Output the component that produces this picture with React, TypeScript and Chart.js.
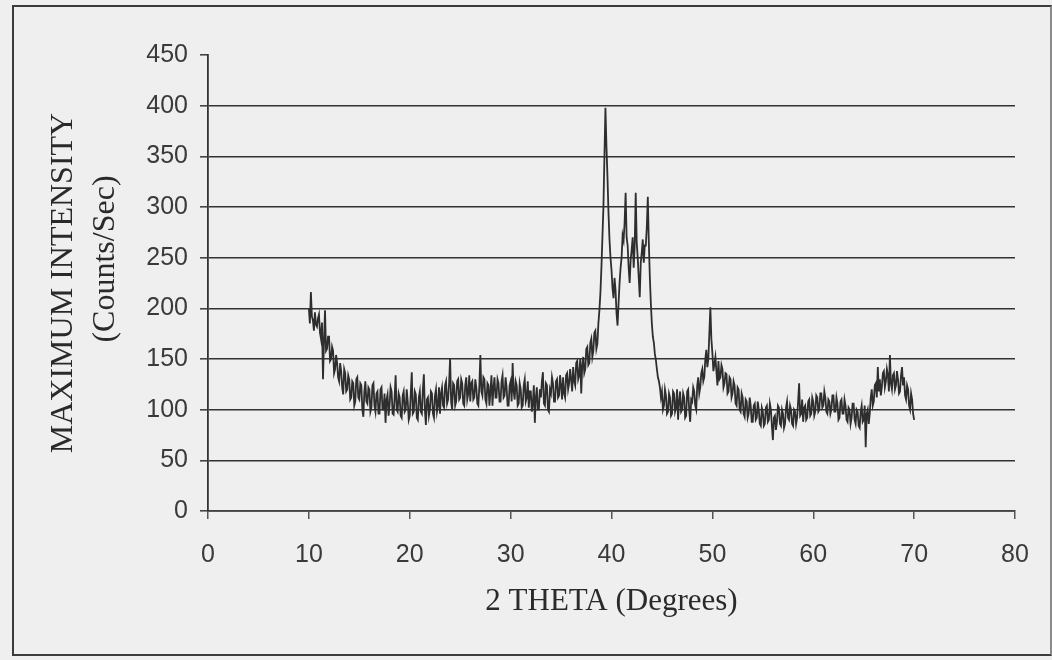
import React, { useEffect, useRef } from "react";
import { Chart, registerables } from "chart.js";

Chart.register(...registerables);

// Scan grid of the diffractometer: 2θ from 10° to 70° in 0.1° steps
const SCAN_START = 10;
const SCAN_STEP = 0.1;

// Intensity (counts/sec), ten readings per degree (x.0 ... x.9)
const INTENSITY: number[] = [
  // 10
  200, 185, 216, 192, 188, 178, 196, 184, 182, 190,
  194, 176, 170, 186, 130, 168, 198, 158, 160, 172,
  172, 148, 150, 162, 158, 136, 140, 154, 146, 132,
  128, 146, 138, 122, 115, 140, 136, 118, 120, 134,
  130, 110, 112, 128, 126, 104, 108, 130, 132, 112,
  // 15
  110, 126, 124, 100, 93, 118, 128, 108, 106, 122,
  120, 98, 102, 124, 126, 104, 98, 116, 118, 96,
  96, 120, 122, 100, 100, 116, 87, 110, 115, 94,
  104, 122, 118, 96, 95, 112, 134, 100, 98, 116,
  112, 94, 92, 114, 118, 98, 100, 120, 108, 90,
  // 20
  94, 116, 137, 96, 98, 118, 115, 92, 90, 112,
  118, 98, 96, 120, 135, 100, 85, 110, 112, 94,
  100, 118, 116, 96, 92, 114, 120, 98, 104, 122,
  96, 116, 122, 104, 102, 124, 128, 106, 110, 126,
  151, 108, 100, 126, 124, 104, 108, 128, 130, 110,
  // 25
  112, 130, 126, 106, 104, 124, 132, 110, 116, 134,
  108, 126, 128, 110, 112, 130, 122, 106, 104, 124,
  154, 118, 114, 132, 130, 110, 106, 126, 124, 104,
  118, 134, 104, 122, 132, 112, 112, 130, 126, 108,
  108, 128, 134, 112, 114, 132, 122, 104, 104, 124,
  // 30
  128, 108, 146, 118, 110, 128, 124, 104, 106, 126,
  120, 102, 104, 124, 130, 108, 112, 128, 102, 118,
  118, 98, 106, 124, 87, 112, 122, 100, 100, 120,
  112, 128, 137, 106, 104, 126, 124, 100, 98, 120,
  116, 132, 126, 108, 108, 128, 130, 112, 114, 134,
  // 35
  124, 110, 132, 116, 112, 134, 136, 120, 126, 140,
  130, 118, 142, 128, 124, 146, 148, 130, 134, 150,
  116, 144, 152, 136, 140, 160, 162, 144, 146, 166,
  170, 152, 158, 176, 178, 160, 165, 185, 198, 215,
  240, 270, 300, 350, 398, 360, 330, 295, 268, 250,
  // 40
  238, 220, 210, 230, 218, 195, 183, 205, 225, 240,
  250, 272, 267, 285, 314, 270, 262, 240, 225, 248,
  258, 270, 240, 262, 314, 265, 250, 230, 211, 245,
  255, 268, 245, 262, 262, 280, 310, 265, 231, 205,
  185, 172, 166, 155, 149, 140, 132, 128, 122, 112,
  // 45
  118, 100, 104, 120, 114, 96, 98, 116, 112, 94,
  96, 118, 116, 98, 102, 120, 90, 108, 118, 98,
  100, 116, 112, 92, 94, 118, 120, 100, 88, 110,
  108, 122, 118, 104, 100, 124, 132, 116, 122, 136,
  140, 128, 132, 150, 159, 142, 150, 175, 201, 170,
  // 50
  156, 138, 145, 152, 138, 124, 148, 130, 132, 144,
  140, 122, 126, 136, 135, 116, 118, 132, 130, 112,
  116, 128, 124, 106, 104, 122, 120, 100, 98, 116,
  112, 96, 93, 110, 108, 92, 96, 112, 104, 88,
  88, 104, 106, 90, 92, 108, 100, 86, 84, 102,
  // 55
  98, 84, 86, 102, 104, 88, 90, 106, 100, 84,
  70, 92, 94, 80, 88, 104, 102, 86, 84, 100,
  96, 82, 86, 102, 108, 92, 90, 104, 100, 86,
  84, 100, 98, 86, 92, 108, 126, 94, 96, 110,
  88, 102, 104, 90, 92, 108, 110, 94, 96, 112,
  // 60
  108, 94, 98, 114, 112, 98, 100, 116, 116, 102,
  104, 118, 112, 98, 96, 110, 108, 96, 100, 114,
  114, 98, 98, 112, 106, 90, 92, 108, 110, 96,
  96, 110, 104, 90, 88, 102, 100, 86, 92, 106,
  106, 90, 86, 100, 98, 84, 82, 98, 104, 88,
  // 65
  90, 104, 63, 96, 100, 86, 96, 112, 120, 104,
  108, 124, 126, 112, 142, 118, 130, 114, 122, 136,
  138, 122, 128, 140, 134, 118, 154, 126, 120, 134,
  136, 120, 124, 138, 130, 116, 118, 134, 142, 124,
  132, 114, 110, 124, 120, 104, 100, 116, 110, 96,
  // 70
  90,
];

const X_MIN = 0;
const X_MAX = 80;
const X_STEP = 10;
const Y_MIN = 0;
const Y_MAX = 450;
const Y_STEP = 50;

const X_TITLE = "2 THETA (Degrees)";
const Y_TITLE = ["MAXIMUM INTENSITY", "\u00A0\u00A0\u00A0\u00A0\u00A0\u00A0(Counts/Sec)"];

const SANS = "'Liberation Sans', Arial, sans-serif";
const SERIF = "'Liberation Serif', 'Times New Roman', serif";

export default function App() {
  const canvasRef = useRef<HTMLCanvasElement | null>(null);

  useEffect(() => {
    const canvas = canvasRef.current;
    if (!canvas) return;
    const points = INTENSITY.map((y, i) => ({
      x: Math.round((SCAN_START + i * SCAN_STEP) * 10) / 10,
      y,
    }));
    const chart = new Chart(canvas, {
      type: "line",
      data: {
        datasets: [
          {
            data: points,
            borderColor: "#2e2e2e",
            borderWidth: 1.8,
            pointRadius: 0,
            tension: 0,
            fill: false,
          },
        ],
      },
      options: {
        animation: false,
        responsive: false,
        events: [],
        layout: { padding: { left: 0, right: 37, top: 55, bottom: 0 } },
        plugins: {
          legend: { display: false },
          tooltip: { enabled: false },
          title: { display: false },
        },
        scales: {
          x: {
            type: "linear",
            min: X_MIN,
            max: X_MAX,
            afterFit: (s: any) => {
              s.height = 149;
            },
            ticks: {
              stepSize: X_STEP,
              color: "#3a3a3a",
              font: { family: SANS, size: 25 },
              padding: 21,
              maxRotation: 0,
            },
            grid: {
              display: true,
              drawOnChartArea: false,
              drawTicks: true,
              tickLength: 8,
              color: "#555",
              lineWidth: 1.5,
            },
            border: { display: true, color: "#444", width: 1.8 },
            title: {
              display: true,
              text: X_TITLE,
              color: "#2a2a2a",
              font: { family: SERIF, size: 31 },
              padding: { top: 0, bottom: 40 },
            },
          },
          y: {
            type: "linear",
            min: Y_MIN,
            max: Y_MAX,
            afterFit: (s: any) => {
              s.width = 208;
            },
            ticks: {
              stepSize: Y_STEP,
              color: "#3a3a3a",
              font: { family: SANS, size: 25 },
              padding: 12,
            },
            grid: {
              display: true,
              drawTicks: true,
              tickLength: 8,
              color: (ctx: any) =>
                ctx.tick && ctx.tick.value === Y_MAX ? "rgba(0,0,0,0)" : "#333",
              tickColor: "#444",
              lineWidth: 1.6,
            },
            border: { display: true, color: "#333", width: 1.8 },
            title: {
              display: true,
              text: Y_TITLE,
              color: "#2a2a2a",
              font: { family: SERIF, size: 32, lineHeight: 1.3 },
              padding: { top: 43, bottom: 0 },
            },
          },
        },
      },
    });
    return () => chart.destroy();
  }, []);

  return (
    <div
      style={{
        position: "fixed",
        left: 0,
        top: 0,
        width: 1052,
        height: 660,
        background: "#efefef",
        overflow: "hidden",
      }}
    >
      <canvas
        ref={canvasRef}
        width={1052}
        height={660}
        style={{ position: "absolute", left: 0, top: 0, width: 1052, height: 660 }}
      />
      <div
        style={{
          position: "absolute",
          left: 12,
          top: 5,
          width: 1036,
          height: 647,
          border: "2px solid #3c3c3c",
          borderRight: "2px solid #8a8a8a",
          pointerEvents: "none",
        }}
      />
    </div>
  );
}
